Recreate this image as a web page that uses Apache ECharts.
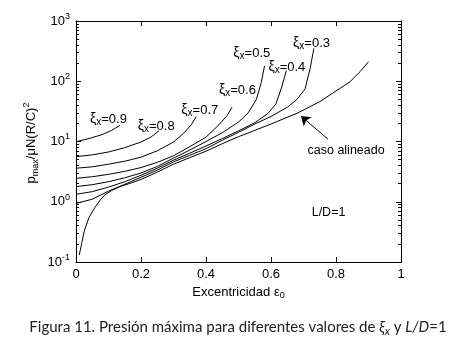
<!DOCTYPE html>
<html>
<head>
<meta charset="utf-8">
<script src="https://cdn.jsdelivr.net/npm/echarts@6/dist/echarts.min.js"></script>
<style>
  html, body { margin: 0; padding: 0; background: #fff; }
  #chart { width: 452px; height: 342px; }
</style>
</head>
<body>
<div id="chart"></div>
<script>
// values: eccentricity (x) and p_max/uN(R/C)^2 (y, log)
const ecc09 = [0, 0.04, 0.08, 0.11, 0.135];
const p09 = [9.9, 11.2, 13.0, 15.3, 18.5];

const ecc08 = [0, 0.05, 0.1, 0.15, 0.2, 0.23, 0.255];
const p08 = [5.6, 6.0, 6.7, 7.9, 9.8, 11.8, 15];

const ecc07 = [0, 0.05, 0.1, 0.15, 0.2, 0.25, 0.3, 0.33, 0.355, 0.37];
const p07 = [3.6, 3.8, 4.2, 4.7, 5.5, 7.0, 9.8, 13.5, 19, 26];

const ecc06 = [0, 0.05, 0.1, 0.15, 0.2, 0.25, 0.3, 0.35, 0.4, 0.44, 0.465, 0.48];
const p06 = [2.45, 2.6, 2.85, 3.2, 3.7, 4.5, 5.8, 8.2, 11.8, 19, 27, 37];

const ecc05 = [0, 0.05, 0.1, 0.15, 0.2, 0.25, 0.3, 0.35, 0.4, 0.45, 0.5, 0.53, 0.555, 0.57, 0.58];
const p05 = [1.78, 1.92, 2.15, 2.5, 3.0, 3.85, 5.3, 7.2, 10, 14, 21, 30, 50, 95, 180];

const ecc04 = [0, 0.05, 0.1, 0.15, 0.2, 0.25, 0.3, 0.35, 0.4, 0.45, 0.5, 0.55, 0.59, 0.615, 0.633, 0.647];
const p04 = [1.33, 1.47, 1.75, 2.15, 2.75, 3.6, 4.9, 6.4, 8.4, 11.2, 15, 20.5, 29, 42, 80, 150];

const ecc03 = [0, 0.05, 0.1, 0.15, 0.2, 0.25, 0.3, 0.35, 0.4, 0.45, 0.5, 0.55, 0.6, 0.65, 0.68, 0.705, 0.72, 0.732];
const p03 = [0.94, 1.1, 1.5, 1.95, 2.55, 3.35, 4.6, 5.9, 7.6, 10.5, 14.2, 19.5, 26, 37, 50, 75, 160, 350];

// caso alineado
const eccAl = [0.01, 0.018, 0.025, 0.04, 0.058, 0.075, 0.09, 0.11, 0.135, 0.17, 0.2, 0.25, 0.3, 0.35, 0.4, 0.45, 0.5, 0.6, 0.68, 0.75, 0.8, 0.843, 0.874, 0.9];
const pAl = [0.13, 0.21, 0.32, 0.55, 0.8, 1.08, 1.32, 1.54, 1.78, 2.05, 2.35, 3.1, 4.2, 5.4, 6.9, 9.2, 12, 19.5, 29.4, 45.8, 69, 98, 144, 211];

// curve labels (xi_x) and where they sit, in data units
const xiNames = ['0.9', '0.8', '0.7', '0.6', '0.5', '0.4', '0.3'];
const xiLabelEcc = [0.043, 0.19, 0.324, 0.44, 0.484, 0.592, 0.668];
const xiLabelP = [23.6, 18.1, 33.3, 71.6, 289, 169, 424];

// arrow for "caso alineado"
const arrowFrom = [0.775, 11];
const arrowTo = [0.692, 26.5];
const casoText = [0.831, 6.95];
const ldText = [0.777, 0.66];

const yMajor = [0.1, 1, 10, 100, 1000];
const yMinor = [];
for (let d = 0.1; d < 1000; d *= 10) {
  for (let k = 2; k <= 9; k++) yMinor.push(+(d * k).toPrecision(3));
}

const FONT = 'Liberation Sans';
const black = '#000';

function zip(a, b) { return a.map((v, i) => [v, b[i]]); }

const curves = [
  zip(ecc09, p09), zip(ecc08, p08), zip(ecc07, p07), zip(ecc06, p06),
  zip(ecc05, p05), zip(ecc04, p04), zip(ecc03, p03), zip(eccAl, pAl)
];

const myChart = echarts.init(document.getElementById('chart'), null, { renderer: 'canvas' });

function logAxis(pos, minor, labels) {
  return {
    type: 'log',
    logBase: 10,
    min: 0.1,
    max: 1000,
    position: pos,
    axisLine: { show: true, lineStyle: { color: black, width: 1 } },
    axisTick: {
      show: true, inside: true, length: minor ? 3 : 5,
      lineStyle: { color: black, width: 1 },
      customValues: minor ? yMinor : yMajor
    },
    axisLabel: {
      show: labels,
      margin: 6,
      customValues: yMajor,
      formatter: (v) => '{b|10}{s|' + Math.round(Math.log10(v)) + '}',
      rich: {
        b: { fontFamily: FONT, fontSize: 13, color: black, lineHeight: 18 },
        s: { fontFamily: FONT, fontSize: 9, color: black, lineHeight: 9, verticalAlign: 'top' }
      }
    },
    splitLine: { show: false },
    minorTick: { show: false }
  };
}

const option = {
  animation: false,
  backgroundColor: '#fff',
  grid: { left: 76, right: 51, top: 21, bottom: 80, containLabel: false },
  xAxis: [{
    type: 'value', min: 0, max: 1, interval: 0.2, position: 'bottom',
    axisLine: { show: true, onZero: false, lineStyle: { color: black, width: 1 } },
    axisTick: { show: true, inside: true, length: 5, lineStyle: { color: black } },
    axisLabel: {
      margin: 6, color: black, fontFamily: FONT, fontSize: 13,
      formatter: (v) => String(+v.toFixed(1))
    },
    splitLine: { show: false },
    name: '{n|Excentricidad ε}{sub|0}',
    nameLocation: 'middle',
    nameGap: 20,
    nameTextStyle: {
      rich: {
        n: { fontFamily: FONT, fontSize: 13, color: black, lineHeight: 16 },
        sub: { fontFamily: FONT, fontSize: 9, color: black, lineHeight: 9, verticalAlign: 'bottom' }
      }
    }
  }, {
    type: 'value', min: 0, max: 1, interval: 0.2, position: 'top',
    axisLine: { show: true, onZero: false, lineStyle: { color: black, width: 1 } },
    axisTick: { show: true, inside: true, length: 5, lineStyle: { color: black } },
    axisLabel: { show: false },
    splitLine: { show: false }
  }],
  yAxis: [
    logAxis('left', false, true),
    logAxis('left', true, false),
    logAxis('right', false, false),
    logAxis('right', true, false)
  ],
  series: curves.map((d, i) => ({
    type: 'line',
    data: d,
    xAxisIndex: 0,
    yAxisIndex: 0,
    showSymbol: false,
    symbol: 'none',
    smooth: false,
    lineStyle: { color: black, width: 1 },
    silent: true,
    markLine: i === curves.length - 1 ? {
      silent: true,
      symbol: ['none', 'arrow'],
      symbolSize: 9,
      label: { show: false },
      lineStyle: { color: black, width: 1, type: 'solid' },
      data: [[{ coord: arrowFrom }, { coord: arrowTo }]]
    } : undefined
  }))
};

myChart.setOption(option);

// texts placed in data units once the axes exist
const px = (p) => myChart.convertToPixel({ xAxisIndex: 0, yAxisIndex: 0 }, p);

const xiRich = {
  g: { fontFamily: FONT, fontSize: 14, fill: black, lineHeight: 16 },
  x: { fontFamily: FONT, fontSize: 10, fill: black, lineHeight: 10, verticalAlign: 'bottom' },
  n: { fontFamily: FONT, fontSize: 13, fill: black, lineHeight: 16 }
};

const graphics = xiNames.map((name, i) => {
  const p = px([xiLabelEcc[i], xiLabelP[i]]);
  return {
    type: 'text', x: p[0], y: p[1], silent: true,
    style: {
      text: '{g|ξ}{x|x}{n|=' + name + '}',
      rich: xiRich, align: 'left', verticalAlign: 'middle'
    }
  };
});

const cp = px(casoText);
graphics.push({
  type: 'text', x: cp[0], y: cp[1], silent: true,
  style: { text: 'caso alineado', font: '12.5px "' + FONT + '"', fill: black, align: 'center', verticalAlign: 'middle' }
});
const lp = px(ldText);
graphics.push({
  type: 'text', x: lp[0], y: lp[1], silent: true,
  style: { text: 'L/D=1', font: '12.5px "' + FONT + '"', fill: black, align: 'center', verticalAlign: 'middle' }
});

// y axis title
graphics.push({
  type: 'text', x: 31, y: 143, rotation: Math.PI / 2, silent: true,
  style: {
    text: '{n|p}{sub|max}{n|/μN(R/C)}{sup|2}',
    align: 'center', verticalAlign: 'middle',
    rich: {
      n: { fontFamily: FONT, fontSize: 13, fill: black, lineHeight: 18 },
      sub: { fontFamily: FONT, fontSize: 9, fill: black, lineHeight: 9, verticalAlign: 'bottom' },
      sup: { fontFamily: FONT, fontSize: 9, fill: black, lineHeight: 9, verticalAlign: 'top' }
    }
  }
});

// figure caption
graphics.push({
  type: 'text', x: 238, y: 327, silent: true,
  style: {
    text: '{r|Figura 11. Presión máxima para diferentes valores de }{i|ξ}{is|x}{r| y }{i|L/D}{r|=1}',
    align: 'center', verticalAlign: 'middle',
    rich: {
      r: { fontFamily: 'Lato', fontSize: 15, fill: '#222', lineHeight: 20 },
      i: { fontFamily: 'Lato', fontStyle: 'italic', fontSize: 15, fill: '#222', lineHeight: 20 },
      is: { fontFamily: 'Lato', fontStyle: 'italic', fontSize: 11, fill: '#222', lineHeight: 11, verticalAlign: 'bottom' }
    }
  }
});

myChart.setOption({ graphic: graphics });
</script>
</body>
</html>
